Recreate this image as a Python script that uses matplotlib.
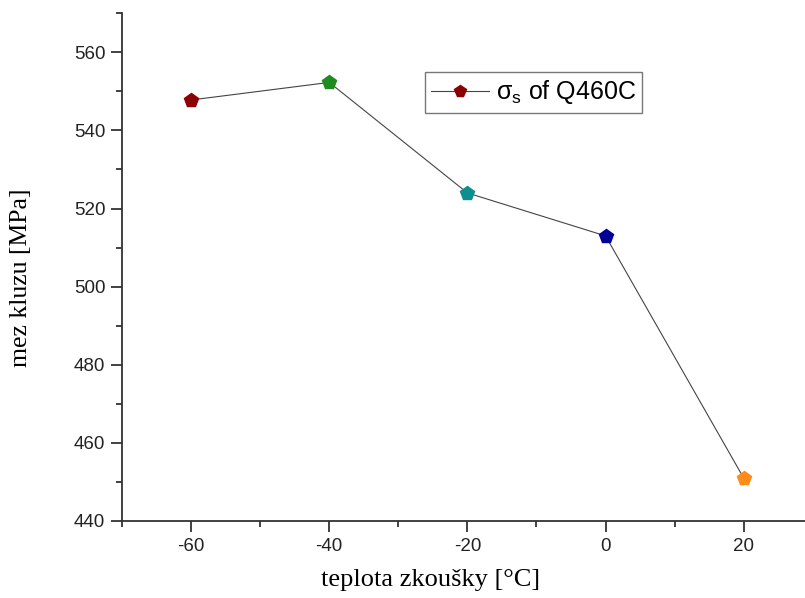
import matplotlib
matplotlib.use("Agg")
import matplotlib.pyplot as plt
from matplotlib.ticker import MultipleLocator
from matplotlib.lines import Line2D

plt.rcParams["axes.unicode_minus"] = False

temps = [-60, -40, -20, 0, 20]
yield_strength = [547.8, 552.3, 524.0, 513.0, 451.0]
colors = ["#8b0000", "#1e8c1e", "#0e8f8f", "#000099", "#ff8c1a"]
legend_label = "σ$_\\mathregular{s}$ of Q460C"

fig = plt.figure(figsize=(8.05, 5.98), dpi=100)
ax = fig.add_axes([0.1516, 0.1288, 0.858, 0.849])

ax.plot(temps, yield_strength, color="#444444", lw=0.8, zorder=1)
for x, y, c in zip(temps, yield_strength, colors):
    ax.plot([x], [y], marker="p", ms=10, color=c, mec=c, ls="none", zorder=2)

ax.set_xlim(-70, 30)
ax.set_ylim(440, 570)
ax.xaxis.set_major_locator(MultipleLocator(20))
ax.xaxis.set_minor_locator(MultipleLocator(10))
ax.yaxis.set_major_locator(MultipleLocator(20))
ax.yaxis.set_minor_locator(MultipleLocator(10))
ax.spines["top"].set_visible(False)
ax.spines["right"].set_visible(False)
for s in ("left", "bottom"):
    ax.spines[s].set_linewidth(1.3)
    ax.spines[s].set_color("#333333")
ax.tick_params(which="both", direction="out", width=1.3, color="#333333", pad=4)
ax.tick_params(which="major", length=8)
ax.tick_params(which="minor", length=4.5)
for lab in ax.get_xticklabels() + ax.get_yticklabels():
    lab.set_fontfamily("Liberation Sans")
    lab.set_fontsize(13.5)
    lab.set_color("#222222")

ax.set_xlabel("teplota zkoušky [°C]", fontfamily="Liberation Serif", fontsize=19)
ax.set_ylabel("mez kluzu [MPa]", fontfamily="Liberation Serif", fontsize=18.5)
ax.xaxis.set_label_coords(0.446, -0.095)
ax.yaxis.set_label_coords(-0.13, 0.479)

handle = Line2D([], [], color="#444444", lw=0.8, marker="p", ms=8.5,
                markerfacecolor=colors[0], markeredgecolor=colors[0])
leg = ax.legend([handle], [legend_label], loc="upper left",
                bbox_to_anchor=(0.4385, 0.884), borderaxespad=0,
                prop={"family": "Liberation Sans", "size": 18},
                frameon=True, fancybox=False, handlelength=2.3,
                handletextpad=0.3, borderpad=0.25)
leg.get_frame().set_edgecolor("#555555")
leg.get_frame().set_linewidth(1.0)

fig.savefig("out.png", dpi=100)
